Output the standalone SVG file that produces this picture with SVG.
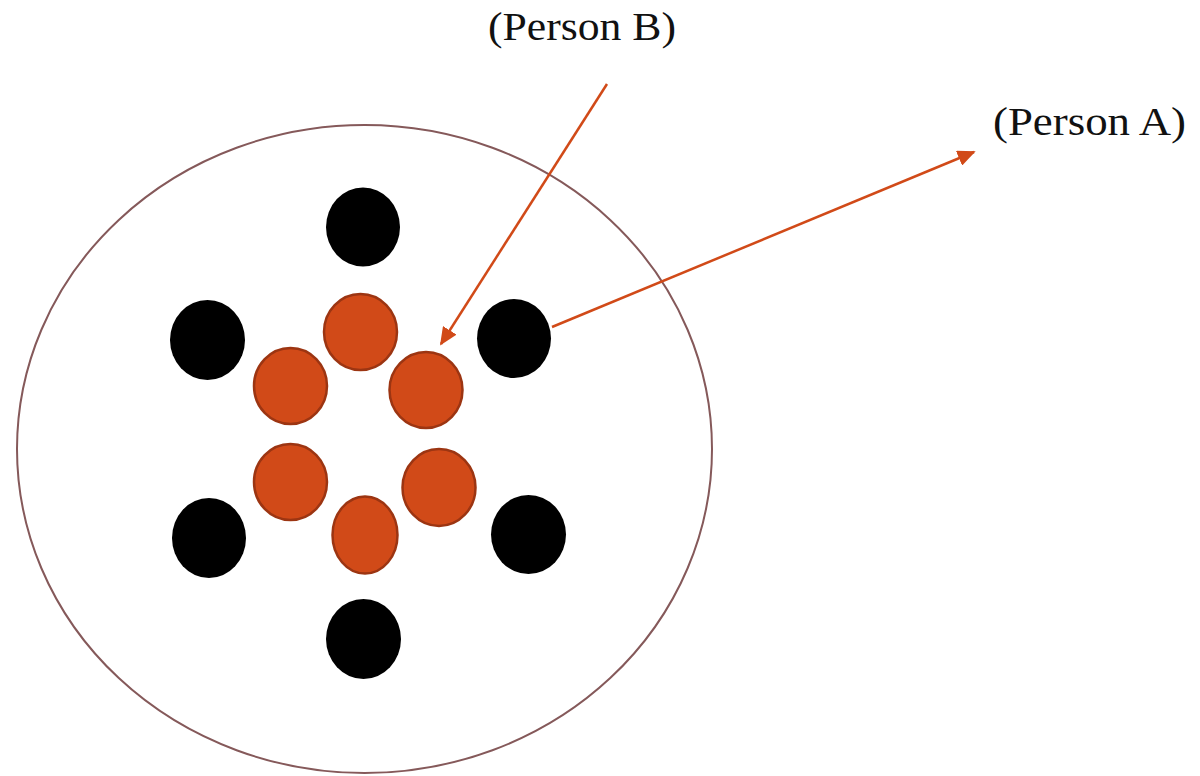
<svg xmlns="http://www.w3.org/2000/svg" width="1200" height="776" viewBox="0 0 1200 776">
<style>
.lbl{font-family:"Liberation Serif","DejaVu Serif",serif;font-size:40px;fill:#111}
.blk{fill:#000}
.org{fill:#D14A18;stroke:#9C3512;stroke-width:2.5}
.con{stroke:#D14A18;stroke-width:2.5;fill:none}
</style>
<defs>
<marker id="ah" viewBox="0 0 10 10" refX="9" refY="5" markerWidth="18" markerHeight="16" markerUnits="userSpaceOnUse" orient="auto" preserveAspectRatio="none">
<path d="M0,0 L10,5 L0,10 z" fill="#D14A18"/>
</marker>
</defs>
<rect width="1200" height="776" fill="#fff"/>
<g id="outer"><ellipse cx="364.5" cy="449" rx="347.5" ry="324" fill="#fff" stroke="#85595A" stroke-width="2"/></g>
<g id="black-nodes">
<ellipse id="b1" class="blk" cx="363" cy="227" rx="37" ry="39.5"/>
<ellipse id="b2" class="blk" cx="207.5" cy="340" rx="37.5" ry="40"/>
<ellipse id="b3" class="blk" cx="514" cy="338.5" rx="37" ry="39.5"/>
<ellipse id="b4" class="blk" cx="209" cy="538" rx="37" ry="40"/>
<ellipse id="b5" class="blk" cx="528.5" cy="534.5" rx="37.5" ry="39.5"/>
<ellipse id="b6" class="blk" cx="363.5" cy="639" rx="37.5" ry="40"/>
</g>
<g id="orange-nodes">
<ellipse id="o1" class="org" cx="360.5" cy="332" rx="36.5" ry="38"/>
<ellipse id="o2" class="org" cx="290.5" cy="386" rx="36.5" ry="38"/>
<ellipse id="o3" class="org" cx="426" cy="390" rx="36.5" ry="38"/>
<ellipse id="o4" class="org" cx="290.5" cy="482" rx="36.5" ry="38"/>
<ellipse id="o5" class="org" cx="439" cy="487.5" rx="36.5" ry="38.5"/>
<ellipse id="o6" class="org" cx="365" cy="535" rx="32.5" ry="38.5"/>
</g>
<g id="connectors">
<line class="con" x1="607" y1="84" x2="441" y2="344" marker-end="url(#ah)"/>
<line class="con" x1="552" y1="327" x2="974" y2="152" marker-end="url(#ah)"/>
</g>
<g id="label-b"><text class="lbl" x="488" y="40" textLength="188" lengthAdjust="spacingAndGlyphs">(Person B)</text></g>
<g id="label-a"><text class="lbl" x="993" y="135" textLength="193" lengthAdjust="spacingAndGlyphs">(Person A)</text></g>
</svg>
